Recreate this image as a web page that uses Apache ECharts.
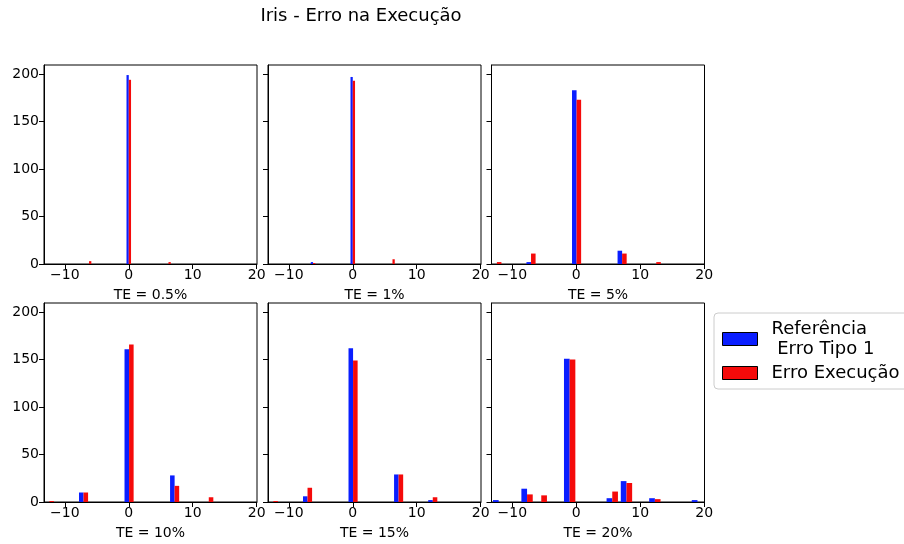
<!DOCTYPE html>
<html>
<head>
<meta charset="utf-8">
<script src="https://cdn.jsdelivr.net/npm/echarts@6/dist/echarts.min.js"></script>
<style>
  html, body { margin: 0; padding: 0; background: #fff; }
  #chart { width: 904px; height: 544px; }
</style>
</head>
<body>
<div id="chart"></div>
<script>
// Panel captions and legend entries
const panelTitles = ['TE = 0.5%', 'TE = 1%', 'TE = 5%', 'TE = 10%', 'TE = 15%', 'TE = 20%'];
const seriesNames = ['Referência\n Erro Tipo 1', 'Erro Execução'];

// Tick labels
const xTicks = [-10, 0, 10, 20];
const yTicks = [0, 50, 100, 150, 200];

// Histogram bins (15 per panel): first edge and bin width
const binStart = [-6.65, -6.65, -13.3, -13.3, -13.3, -13.24];
const binWidth = [0.887, 0.887, 1.78, 1.78, 1.78, 2.22];

// Bin counts, reference (Erro Tipo 1) and execution error, per panel
const refTE05  = [0, 0, 0, 0, 0, 0, 0, 199, 0, 0, 0, 0, 0, 0, 0];
const execTE05 = [3, 0, 0, 0, 0, 0, 0, 194, 0, 0, 0, 0, 0, 0, 2];
const refTE1   = [2, 0, 0, 0, 0, 0, 0, 197, 0, 0, 0, 0, 0, 0, 0];
const execTE1  = [1, 0, 0, 0, 0, 0, 0, 193, 0, 0, 0, 0, 0, 0, 5];
const refTE5   = [0, 0, 0, 2, 0, 0, 0, 183, 0, 0, 0, 14, 0, 0, 0];
const execTE5  = [2, 0, 0, 11, 0, 0, 0, 173, 0, 0, 0, 11, 0, 0, 2];
const refTE10  = [0, 0, 0, 10, 0, 0, 0, 161, 0, 0, 0, 28, 0, 0, 0];
const execTE10 = [1, 0, 0, 10, 0, 0, 0, 166, 0, 0, 0, 17, 0, 0, 5];
const refTE15  = [0, 0, 0, 6, 0, 0, 0, 162, 0, 0, 0, 29, 0, 0, 2];
const execTE15 = [1, 0, 0, 15, 0, 0, 0, 149, 0, 0, 0, 29, 0, 0, 5];
const refTE20  = [2, 0, 14, 0, 0, 151, 0, 0, 4, 22, 0, 4, 0, 0, 2];
const execTE20 = [0, 0, 8, 7, 0, 150, 0, 0, 11, 20, 0, 3, 0, 0, 0];

const refCounts = [refTE05, refTE1, refTE5, refTE10, refTE15, refTE20];
const execCounts = [execTE05, execTE1, execTE5, execTE10, execTE15, execTE20];

const colors = ['#0a1eff', '#f50a0a'];
const FONT = 'DejaVu Sans';

// Subplot frames (pixels)
const colLeft = [44, 268, 491.5];
const rowTop = [65, 303];
const plotW = 213, plotH = 199;

const fmtMinus = v => (v < 0 ? '\u2212' + Math.abs(v) : String(v));

// Side-by-side bars like a grouped histogram: each dataset takes 40% of a bin
function histData(counts, panel, slot) {
  const w = binWidth[panel];
  const out = [];
  counts.forEach((c, k) => {
    if (c <= 0) return;
    const x0 = binStart[panel] + k * w + 0.1 * w + slot * 0.4 * w;
    out.push([x0, x0 + 0.4 * w, c]);
  });
  return out;
}

function renderBar(params, api) {
  const p0 = api.coord([api.value(0), api.value(2)]);
  const p1 = api.coord([api.value(1), 0]);
  const cs = params.coordSys;
  const shape = echarts.graphic.clipRectByRect(
    { x: p0[0], y: p0[1], width: p1[0] - p0[0], height: p1[1] - p0[1] },
    { x: cs.x, y: cs.y, width: cs.width, height: cs.height }
  );
  return shape && { type: 'rect', shape: shape, style: api.style() };
}

const grids = [], xAxes = [], yAxes = [], series = [];
for (let i = 0; i < 6; i++) {
  const r = Math.floor(i / 3), c = i % 3;
  grids.push({
    left: colLeft[c], top: rowTop[r], width: plotW, height: plotH,
    show: true, borderColor: '#000', borderWidth: 1, backgroundColor: 'transparent'
  });
  xAxes.push({
    type: 'value', gridIndex: i, min: -13.25, max: 20.05,
    name: panelTitles[i], nameLocation: 'middle', nameGap: 24,
    nameTextStyle: { fontFamily: FONT, fontSize: 14, color: '#000' },
    axisLine: { show: true, onZero: false, lineStyle: { color: '#000', width: 1 } },
    axisTick: { show: true, length: 5, customValues: xTicks, lineStyle: { color: '#000' } },
    axisLabel: { customValues: xTicks, formatter: fmtMinus, fontFamily: FONT, fontSize: 14, color: '#000', margin: 4 },
    splitLine: { show: false }
  });
  yAxes.push({
    type: 'value', gridIndex: i, min: 0, max: 209.6,
    axisLine: { show: true, onZero: false, lineStyle: { color: '#000', width: 1 } },
    axisTick: { show: true, length: 5, customValues: yTicks, lineStyle: { color: '#000' } },
    axisLabel: { show: c === 0, customValues: yTicks, fontFamily: FONT, fontSize: 14, color: '#000', margin: 5 },
    splitLine: { show: false }
  });
  [refCounts[i], execCounts[i]].forEach((counts, slot) => {
    series.push({
      type: 'custom', name: seriesNames[slot],
      xAxisIndex: i, yAxisIndex: i,
      renderItem: renderBar,
      encode: { x: [0, 1], y: 2 },
      itemStyle: { color: colors[slot] },
      data: histData(counts, i, slot),
      silent: true
    });
  });
}

const chart = echarts.init(document.getElementById('chart'), null, { renderer: 'canvas' });
chart.setOption({
  animation: false,
  backgroundColor: '#fff',
  grid: grids,
  xAxis: xAxes,
  yAxis: yAxes,
  series: series,
  legend: {
    left: 714, top: 313, orient: 'vertical', selectedMode: false,
    data: seriesNames.map(n => ({ name: n, icon: 'rect' })),
    itemWidth: 35, itemHeight: 13, itemGap: 4,
    itemStyle: { borderColor: '#000', borderWidth: 1 },
    textStyle: { fontFamily: FONT, fontSize: 18, color: '#000', lineHeight: 20, padding: [0, 0, 0, 9] },
    backgroundColor: '#fff', borderColor: '#ccc', borderWidth: 1, borderRadius: 4,
    padding: [6, 30, 6, 8]
  },
  graphic: [{
    type: 'text', x: 361, y: 16,
    style: { text: 'Iris - Erro na Execução', fontFamily: FONT, fontSize: 18, fill: '#000',
             textAlign: 'center', textVerticalAlign: 'middle' }
  }]
});
</script>
</body>
</html>
